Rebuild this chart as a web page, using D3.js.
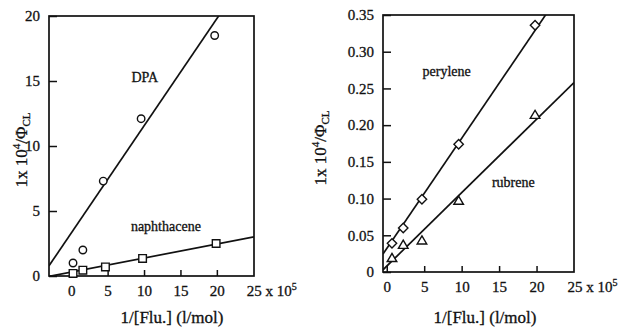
<!DOCTYPE html>
<html>
<head>
<meta charset="utf-8">
<script src="https://cdn.jsdelivr.net/npm/d3@7"></script>
<style>
  html, body { margin: 0; padding: 0; background: #fff; }
  svg text { font-family: "Liberation Serif", "DejaVu Serif", serif; fill: #111; stroke: #111; stroke-width: 0.3; }
</style>
</head>
<body>
<svg id="chart" width="619" height="327"></svg>
<script>
// x values are 1/[Flu.] in units of 10^5 l/mol
const xTicks = [0, 5, 10, 15, 20, 25];

// left panel
const leftYTicks = [0, 5, 10, 15, 20];
const dpaX = [0.25, 1.6, 4.4, 9.6, 19.7];
const dpaY = [1.0, 2.0, 7.3, 12.1, 18.5];
const naphX = [0.25, 1.6, 4.7, 9.8, 19.9];
const naphY = [0.2, 0.45, 0.7, 1.35, 2.5];
// fitted lines: [intercept, slope]
const dpaFit = [3.3, 0.825];
const naphFit = [0.3, 0.108];

// right panel
const rightYTicks = [0, 0.05, 0.10, 0.15, 0.20, 0.25, 0.30, 0.35];
const peryX = [0.7, 2.2, 4.7, 9.6, 19.8];
const peryY = [0.039, 0.060, 0.099, 0.174, 0.336];
const rubX = [0.7, 2.2, 4.7, 9.6, 19.8];
const rubY = [0.019, 0.037, 0.043, 0.097, 0.214];
const peryFit = [0.032, 0.0150];
const rubFit = [0.008, 0.0100];

const svg = d3.select("#chart");

const panels = [
  {
    id: "left",
    box: { x0: 49, x1: 254, y0: 16, y1: 276 },
    xDomain: [-3.05, 25.1], yDomain: [0, 20],
    yTicks: leftYTicks, yFormat: d => `${d}`,
    yTitleX: 27, yTitleY: 150, xTitleX: 172,
    series: [
      { xs: dpaX, ys: dpaY, fit: dpaFit, marker: "circle" },
      { xs: naphX, ys: naphY, fit: naphFit, marker: "square" }
    ],
    labels: [
      { text: "DPA", x: 10.1, y: 14.9 },
      { text: "naphthacene", x: 13.0, y: 3.5 }
    ]
  },
  {
    id: "right",
    box: { x0: 383, x1: 574, y0: 15, y1: 272 },
    xDomain: [-0.5, 25], yDomain: [0, 0.35],
    yTicks: rightYTicks, yFormat: d => d === 0 ? "0" : d3.format(".2f")(d),
    yTitleX: 326, yTitleY: 148, xTitleX: 485,
    series: [
      { xs: peryX, ys: peryY, fit: peryFit, marker: "diamond" },
      { xs: rubX, ys: rubY, fit: rubFit, marker: "triangle" }
    ],
    labels: [
      { text: "perylene", x: 8.0, y: 0.267 },
      { text: "rubrene", x: 16.9, y: 0.116 }
    ]
  }
];

const markerPath = {
  circle: d3.symbol(d3.symbolCircle, 44)(),
  square: "M-3.8,-3.8h7.6v7.6h-7.6z",
  diamond: "M0,-4.7L4.7,0L0,4.7L-4.7,0Z",
  triangle: "M0,-4.6L4.8,3.5L-4.8,3.5Z"
};

panels.forEach(p => {
  const x = d3.scaleLinear().domain(p.xDomain).range([p.box.x0, p.box.x1]);
  const y = d3.scaleLinear().domain(p.yDomain).range([p.box.y1, p.box.y0]);
  const g = svg.append("g").attr("id", p.id);

  g.append("clipPath").attr("id", `clip-${p.id}`)
    .append("rect")
    .attr("x", p.box.x0).attr("y", p.box.y0)
    .attr("width", p.box.x1 - p.box.x0).attr("height", p.box.y1 - p.box.y0);

  // x axis, ticks pointing inward
  const xAxis = g.append("g")
    .attr("transform", `translate(0,${p.box.y1})`)
    .call(d3.axisBottom(x).tickValues(xTicks).tickSize(-6).tickPadding(9).tickFormat(d => `${d}`));
  xAxis.select(".domain").remove();
  xAxis.selectAll("line").attr("stroke", "#111").attr("stroke-width", 1.5);
  xAxis.selectAll("text").attr("font-size", 15).attr("fill", "#111");
  xAxis.selectAll(".tick").filter(d => d === 25).select("line").remove();
  xAxis.selectAll(".tick").filter(d => d === 25).select("text")
    .attr("text-anchor", "start").attr("x", -7)
    .text(null)
    .call(t => {
      t.append("tspan").text("25 x 10");
      t.append("tspan").attr("font-size", 10).attr("dy", -6).text("5");
    });

  // y axis, ticks pointing inward
  const yAxis = g.append("g")
    .attr("transform", `translate(${p.box.x0},0)`)
    .call(d3.axisLeft(y).tickValues(p.yTicks).tickSize(-8).tickPadding(9).tickFormat(p.yFormat));
  yAxis.select(".domain").remove();
  yAxis.selectAll("line").attr("stroke", "#111").attr("stroke-width", 1.5);
  yAxis.selectAll("text").attr("font-size", 15).attr("fill", "#111");

  // frame
  g.append("rect")
    .attr("x", p.box.x0).attr("y", p.box.y0)
    .attr("width", p.box.x1 - p.box.x0).attr("height", p.box.y1 - p.box.y0)
    .attr("fill", "none").attr("stroke", "#111").attr("stroke-width", 1.7);

  // fitted lines
  const line = d3.line().x(d => x(d[0])).y(d => y(d[1]));
  p.series.forEach(s => {
    g.append("path")
      .attr("clip-path", `url(#clip-${p.id})`)
      .attr("d", line(p.xDomain.map(v => [v, s.fit[0] + s.fit[1] * v])))
      .attr("fill", "none").attr("stroke", "#111").attr("stroke-width", 1.7);
  });

  // markers
  p.series.forEach(s => {
    g.append("g").selectAll("path")
      .data(s.xs.map((v, i) => [v, s.ys[i]]))
      .join("path")
      .attr("transform", d => `translate(${x(d[0])},${y(d[1])})`)
      .attr("d", markerPath[s.marker])
      .attr("fill", "#fff").attr("stroke", "#111").attr("stroke-width", 1.4);
  });

  // series labels
  g.append("g").selectAll("text")
    .data(p.labels)
    .join("text")
    .attr("x", d => x(d.x)).attr("y", d => y(d.y))
    .attr("text-anchor", "middle")
    .attr("font-size", 14)
    .text(d => d.text);

  // axis titles
  g.append("text")
    .attr("x", p.xTitleX).attr("y", 323)
    .attr("text-anchor", "middle").attr("font-size", 17)
    .text("1/[Flu.] (l/mol)");

  const yt = g.append("text")
    .attr("transform", `translate(${p.yTitleX},${p.yTitleY}) rotate(-90)`)
    .attr("text-anchor", "middle").attr("font-size", 17);
  yt.append("tspan").text("1x 10");
  yt.append("tspan").attr("font-size", 11).attr("dy", -7).text("4");
  yt.append("tspan").attr("dy", 7).text("/Φ");
  yt.append("tspan").attr("font-size", 11).attr("dy", 3).text("CL");
});
</script>
</body>
</html>
